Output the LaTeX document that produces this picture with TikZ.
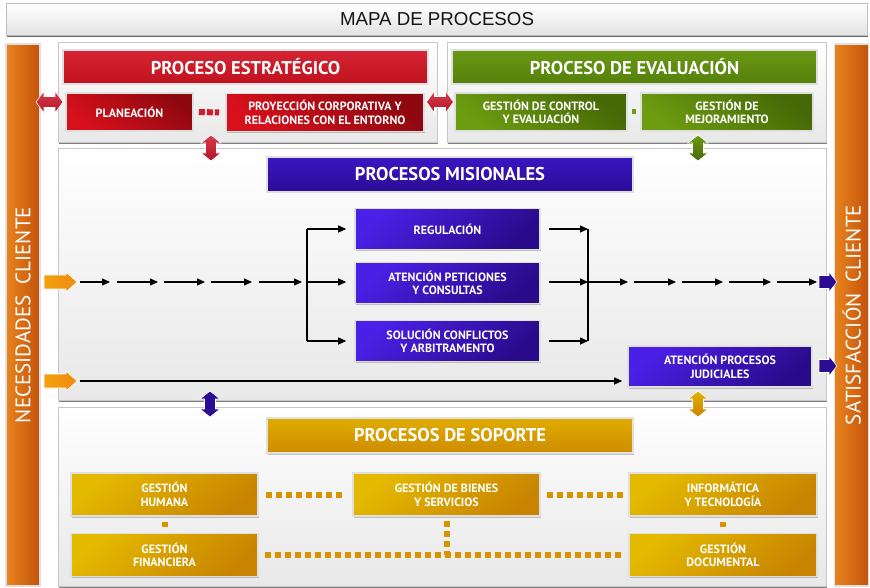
\documentclass[tikz,border=0pt]{standalone}
\usepackage{fontspec}
\setmainfont{PT Sans}
\newfontfamily\titlefont{Liberation Sans}
\usetikzlibrary{arrows.meta,shadows}
\definecolor{orgL}{HTML}{E8841E}
\definecolor{orgR}{HTML}{C4520A}
\definecolor{redHa}{HTML}{D62434}
\definecolor{redHb}{HTML}{C0121E}
\definecolor{redBa}{HTML}{8E0810}
\definecolor{redBb}{HTML}{D8101C}
\definecolor{grnHa}{HTML}{6A9814}
\definecolor{grnHb}{HTML}{54800A}
\definecolor{grnBa}{HTML}{466806}
\definecolor{grnBb}{HTML}{6C9C10}
\definecolor{purHa}{HTML}{3A16C2}
\definecolor{purHb}{HTML}{2A0C94}
\definecolor{purBa}{HTML}{4A20E6}
\definecolor{purBb}{HTML}{2A0A8A}
\definecolor{gldHa}{HTML}{E0AC00}
\definecolor{gldHb}{HTML}{CE8C00}
\definecolor{gldBa}{HTML}{E4BA00}
\definecolor{gldBb}{HTML}{C88400}
\definecolor{arRed}{HTML}{D21A2C}
\definecolor{arGrn}{HTML}{4E7A08}
\definecolor{arPur}{HTML}{2C0C92}
\definecolor{arOrg}{HTML}{F08A12}
\definecolor{arGld}{HTML}{E6A000}
\definecolor{sqGld}{HTML}{D89400}
\newcommand\dblH[3]{\path[#1,shift={(#2,#3)}] (-13.5,0) -- (-5.5,-11) -- (-5.5,-5.5) -- (5.5,-5.5) -- (5.5,-11) -- (13.5,0) -- (5.5,11) -- (5.5,5.5) -- (-5.5,5.5) -- (-5.5,11) -- cycle;}
\newcommand\dblV[3]{\path[#1,shift={(#2,#3)}] (0,-13) -- (-10,-5) -- (-5.5,-5) -- (-5.5,5) -- (-10,5) -- (0,13) -- (10,5) -- (5.5,5) -- (5.5,-5) -- (10,-5) -- cycle;}
\newcommand\sglR[6]{\path[#1,shift={(#2,#3)}] (0,-#5) -- (#4,-#5) -- (#4,-10) -- (#6,0) -- (#4,10) -- (#4,#5) -- (0,#5) -- cycle;}
\begin{document}
\begin{tikzpicture}[x=1pt,y=-1pt,
  panel/.style={draw=black!22, line width=0.8pt, top color=white, bottom color=black!9,
    drop shadow={shadow xshift=1.2pt, shadow yshift=-1.8pt, opacity=0.7, fill=black!70}},
  bar/.style={rectangle, draw=black!12, line width=1.5pt, left color=orgL, right color=orgR,
    minimum width=34pt, minimum height=542pt, inner sep=0pt},
  sidetxt/.style={rotate=90, text=white, font=\fontsize{21}{23}\selectfont},
  box/.style={rectangle, draw=black!12, line width=1.6pt, text=white, align=center, inner sep=1pt,
    font=\fontsize{12}{13.5}\selectfont\bfseries,
    drop shadow={shadow xshift=1.2pt, shadow yshift=-1.5pt, opacity=0.45}},
  hdr/.style={box, font=\fontsize{18.5}{20}\selectfont\bfseries, minimum width=366pt, minimum height=34pt},
  redhdr/.style={hdr, top color=redHa, bottom color=redHb},
  grnhdr/.style={hdr, top color=grnHa, bottom color=grnHb},
  purhdr/.style={hdr, top color=purHa, bottom color=purHb},
  gldhdr/.style={hdr, top color=gldHa, bottom color=gldHb},
  redbox/.style={box, top color=redBa, bottom color=redBb, shading angle=-40},
  grnbox/.style={box, top color=grnBa, bottom color=grnBb, shading angle=-40},
  purbox/.style={box, top color=purBa, bottom color=purBb, shading angle=40, minimum width=185pt, minimum height=41pt},
  gldbox/.style={box, top color=gldBa, bottom color=gldBb, shading angle=40, minimum width=187pt, minimum height=43pt},
  flow/.style={-{Triangle[length=8pt,width=7pt]}, line width=1.1pt},
  plain/.style={line width=1.1pt},
  sq/.style={line width=6pt, draw=#1, dash pattern=on 6pt off 4pt},
]
\useasboundingbox (0,0) rectangle (870,588);
\fill[white] (0,0) rectangle (870,588);

% title
\node[rectangle, draw=black!25, line width=0.8pt, top color=white, bottom color=black!11,
  minimum width=861pt, minimum height=32pt, inner sep=0pt,
  drop shadow={shadow xshift=0.8pt, shadow yshift=-1.8pt, opacity=0.8, fill=black!75},
  font=\titlefont\fontsize{18.7}{20}\selectfont, text=black!92] (title) at (437,19) {MAPA DE PROCESOS};

% side bars
\node[bar] (lbar) at (23,315) {};
\node[sidetxt] (ltxt) at (lbar) {NECESIDADES\ \ CLIENTE};
\node[bar] (rbar) at (851.5,315) {};
\node[sidetxt] (rtxt) at (rbar) {SATISFACCIÓN\ \ CLIENTE};

% panels
\path[panel] (58,42) rectangle (437,142);
\path[panel] (447,42) rectangle (826,142);
\path[panel] (58,148) rectangle (826,400);
\path[panel] (58,407) rectangle (826,586);

% strategic
\node[redhdr, minimum width=365pt] (hE) at (245.5,67) {PROCESO ESTRATÉGICO};
\node[redbox, minimum width=127pt, minimum height=38pt] (pla) at (129.5,112) {PLANEACIÓN};
\node[redbox, minimum width=198pt, minimum height=38pt] (pro) at (325,112.5) {PROYECCIÓN CORPORATIVA Y\\RELACIONES CON EL ENTORNO};
\draw[sq=arRed, dash pattern=on 6pt off 2pt] ([xshift=5pt]pla.east) -- ([xshift=-6pt]pro.west);

% evaluation
\node[grnhdr, minimum width=365pt] (hV) at (634.5,67) {PROCESO DE EVALUACIÓN};
\node[grnbox, minimum width=172pt, minimum height=38pt] (gce) at (541,112) {GESTIÓN DE CONTROL\\Y EVALUACIÓN};
\node[grnbox, minimum width=172pt, minimum height=38pt] (gme) at (727,112) {GESTIÓN DE\\MEJORAMIENTO};
\draw[sq=grnBb, line width=5pt, shorten <=4pt, shorten >=4pt] (gce.east) -- (gme.west);

% misional
\node[purhdr, minimum height=35pt] (hM) at (450,174.5) {PROCESOS MISIONALES};
\node[purbox] (reg) at (447.5,229) {REGULACIÓN};
\node[purbox] (ate) at (447.5,283) {ATENCIÓN PETICIONES\\Y CONSULTAS};
\node[purbox] (sol) at (447.5,341) {SOLUCIÓN CONFLICTOS\\Y ARBITRAMENTO};
\node[purbox, minimum width=184pt] (apj) at (720,366.5) {ATENCIÓN PROCESOS\\JUDICIALES};

\foreach \i/\a/\b in {1/80/110,2/117/158,3/164/205,4/211/252,5/259/302}{
  \coordinate (la\i) at (\a,282); \coordinate (lb\i) at (\b,282);
  \draw[flow] (la\i) -- (lb\i);}
\coordinate (bl) at (307,282);
\draw[plain] (bl |- reg.west) -- (bl |- sol.west);
\draw[flow] (bl |- reg.west) -- ([xshift=-8pt]reg.west);
\draw[flow] (bl) -- ([xshift=-8pt]ate.west |- bl);
\draw[flow] (bl |- sol.west) -- ([xshift=-8pt]sol.west);

\coordinate (br) at (588,282);
\draw[flow] ([xshift=8pt]reg.east) -- (br |- reg.east);
\draw[flow] ([xshift=8pt]ate.east |- br) -- (br);
\draw[flow] ([xshift=8pt]sol.east) -- (br |- sol.east);
\draw[plain] (br |- reg.east) -- (br |- sol.east);
\foreach \i/\a/\b in {1/588/628,2/634/676,3/682/723,4/729/771,5/777/817}{
  \coordinate (ra\i) at (\a,282); \coordinate (rb\i) at (\b,282);
  \draw[flow] (ra\i) -- (rb\i);}

\coordinate (jl) at (80,381);
\draw[flow, shorten >=5pt] (jl) -- (jl -| apj.west);

% support
\node[gldhdr, minimum height=35pt] (hS) at (450,435.5) {PROCESOS DE SOPORTE};
\node[gldbox] (hum) at (164.5,494.5) {GESTIÓN\\HUMANA};
\node[gldbox] (bie) at (446.5,494.5) {GESTIÓN DE BIENES\\Y SERVICIOS};
\node[gldbox, minimum width=188pt] (inf) at (723,494.5) {INFORMÁTICA\\Y TECNOLOGÍA};
\node[gldbox] (fin) at (164.5,555) {GESTIÓN\\FINANCIERA};
\node[gldbox, minimum width=188pt] (doc) at (723,555) {GESTIÓN\\DOCUMENTAL};

\draw[sq=sqGld] ([xshift=7pt]hum.east) -- ([xshift=-10pt]bie.west);
\draw[sq=sqGld] ([xshift=6pt]bie.east) -- ([xshift=-5pt]inf.west);
\draw[sq=sqGld, shorten <=5.25pt, shorten >=5.25pt] (hum.south) -- (fin.north);
\draw[sq=sqGld, shorten <=5.25pt, shorten >=5.25pt] (inf.south) -- (doc.north);
\draw[sq=sqGld] ([xshift=6pt]fin.east) -- ([xshift=-7pt]doc.west);
\draw[sq=sqGld] ([yshift=-4pt]bie.south) -- (bie.south |- fin.east);

% block arrows
\sglR{left color=arOrg!80!yellow, right color=arOrg, draw=white, line width=0.6pt}{44}{282}{22}{7}{33}
\sglR{left color=arOrg!80!yellow, right color=arOrg, draw=white, line width=0.6pt}{44}{381}{22}{7}{33}
\sglR{fill=arPur, draw=white, line width=0.6pt}{819}{282}{10}{6.5}{18}
\sglR{fill=arPur, draw=white, line width=0.6pt}{819}{366}{10}{6.5}{18}
\dblH{top color=arRed!85!white, bottom color=arRed!85!black, draw=white, line width=0.6pt}{49.5}{102}
\dblH{top color=arRed!85!white, bottom color=arRed!85!black, draw=white, line width=0.6pt}{440}{102}
\dblV{top color=arRed!85!white, bottom color=arRed!85!black, draw=white, line width=0.6pt}{211}{148}
\dblV{top color=grnBb, bottom color=grnBa, draw=white, line width=0.6pt}{698}{148}
\dblV{fill=arPur, draw=white, line width=0.6pt}{210}{404}
\dblV{top color=gldBa!70!arGld, bottom color=gldBb, draw=white, line width=0.6pt}{698}{404}
\end{tikzpicture}
\end{document}
